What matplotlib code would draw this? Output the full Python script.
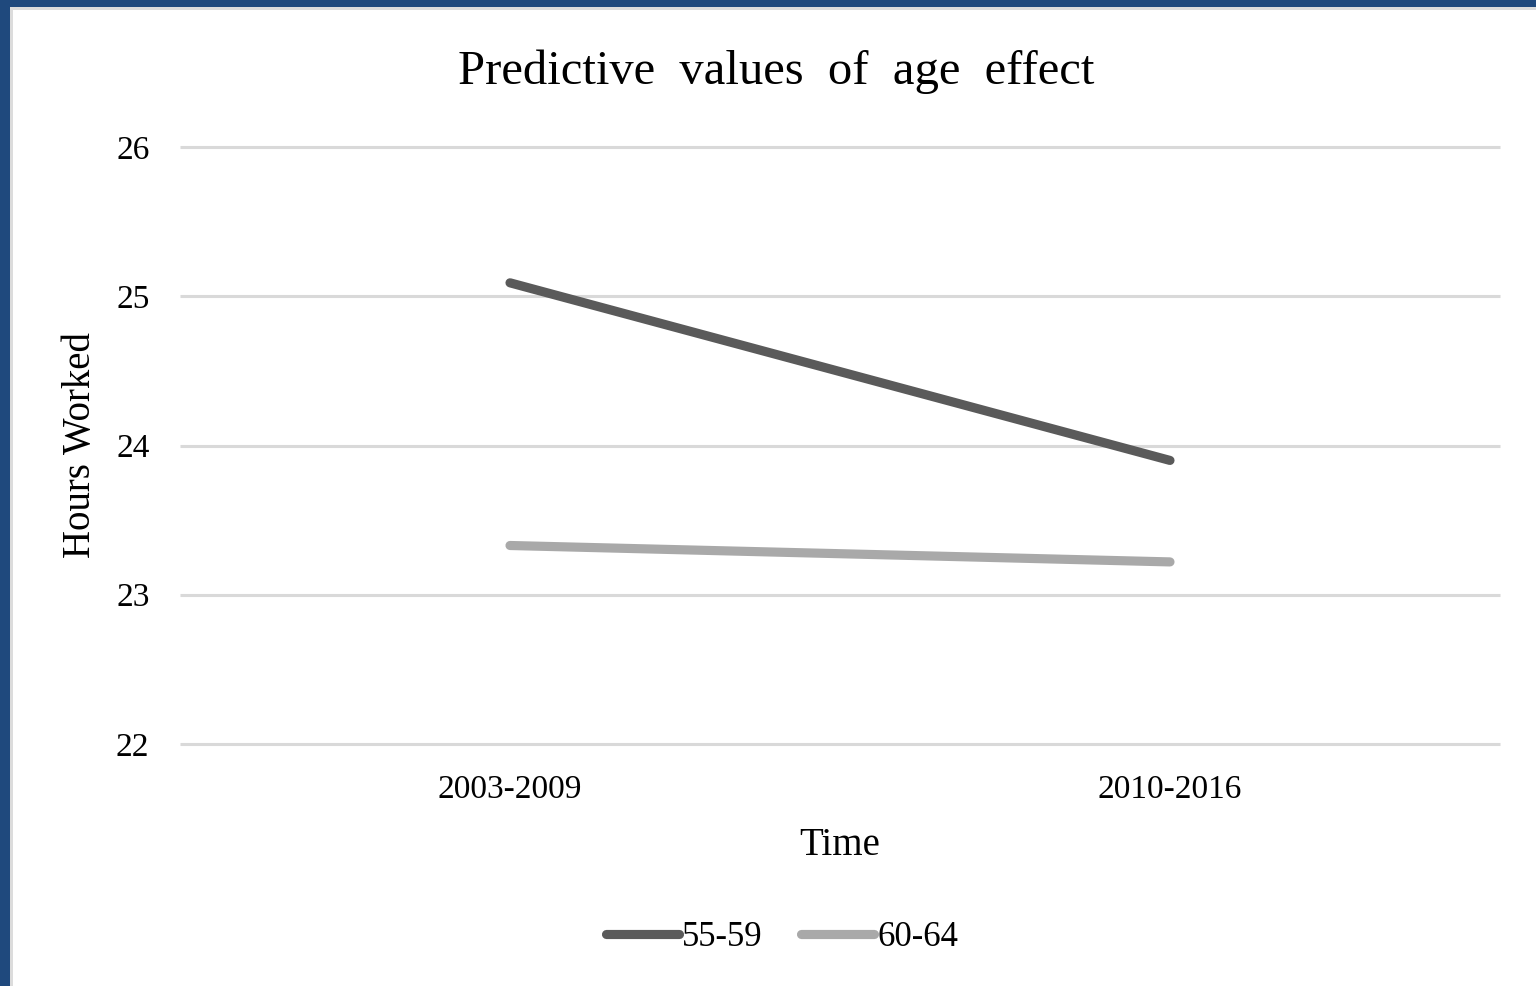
import matplotlib
matplotlib.use("Agg")
import matplotlib.pyplot as plt
from matplotlib.patches import Rectangle

# Predicted hours worked by age group and period
periods = ["2003-2009", "2010-2016"]
hours_55_59 = [25.09, 23.90]
hours_60_64 = [23.33, 23.22]
yticks = [22, 23, 24, 25, 26]

plt.rcParams['font.family'] = ['Liberation Serif', 'DejaVu Serif']

fig = plt.figure(figsize=(15.36, 9.86), dpi=100)

# Blue frame on the left and top edges, with a thin grey inner rule
fig.patches.append(Rectangle((0, 0), 10 / 1536, 1, transform=fig.transFigure,
                             facecolor='#1F497D', edgecolor='none', zorder=0))
fig.patches.append(Rectangle((0, 1 - 7 / 986), 1, 7 / 986, transform=fig.transFigure,
                             facecolor='#1F497D', edgecolor='none', zorder=0))
fig.patches.append(Rectangle((10 / 1536, 0), 3 / 1536, 1 - 7 / 986, transform=fig.transFigure,
                             facecolor='#DCDCDC', edgecolor='none', zorder=0))
fig.patches.append(Rectangle((10 / 1536, 1 - 10 / 986), 1, 3 / 986, transform=fig.transFigure,
                             facecolor='#DCDCDC', edgecolor='none', zorder=0))

ax = fig.add_axes([180 / 1536, 1 - 744 / 986, 1320 / 1536, 597 / 986])
x = list(range(len(periods)))
ax.plot(x, hours_55_59, color='#5A5A5A', linewidth=6.6, solid_capstyle='round',
        label='55-59', zorder=3)
ax.plot(x, hours_60_64, color='#A9A9A9', linewidth=6.6, solid_capstyle='round',
        label='60-64', zorder=3)

ax.set_xlim(-0.5, 1.5)
ax.set_ylim(22, 26)
ax.set_xticks(x)
ax.set_xticklabels(periods)
ax.set_yticks(yticks)
ax.yaxis.grid(True, color='#D9D9D9', linewidth=2.2)
for gl in ax.yaxis.get_gridlines():
    gl.set_clip_on(False)
    gl.set_solid_capstyle('butt')
ax.set_axisbelow(True)
for side in ['top', 'right', 'left', 'bottom']:
    ax.spines[side].set_visible(False)
ax.tick_params(axis='both', length=0, labelsize=24)
ax.tick_params(axis='x', pad=22)
ax.tick_params(axis='y', pad=22)

ax.set_xlabel('Time', fontsize=28, labelpad=16)
ax.set_ylabel('Hours Worked', fontsize=28, labelpad=12)
fig.text(776 / 1536, 1 - 72 / 986, 'Predictive  values  of  age  effect',
         fontsize=35, ha='center', va='center')

fig.legend(loc='center', bbox_to_anchor=(782 / 1536, 1 - 938 / 986), ncol=2,
           frameon=False, fontsize=25, handlelength=2.1, handletextpad=0.1,
           columnspacing=1.1)

fig.savefig('out.png', dpi=100)
